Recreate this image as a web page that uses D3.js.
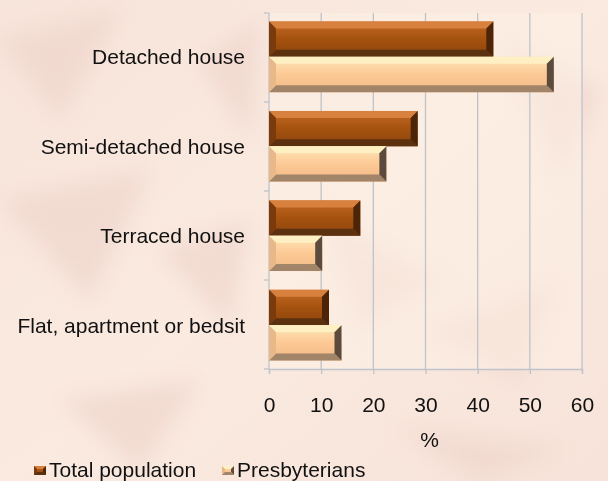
<!DOCTYPE html>
<html>
<head>
<meta charset="utf-8">
<script src="https://cdn.jsdelivr.net/npm/d3@7"></script>
<style>
  body { margin: 0; background: #f8e7dc; }
  svg { display: block; font-family: "Liberation Sans", Arial, sans-serif; }
</style>
</head>
<body>
<svg id="chart" width="608" height="481"></svg>
<script>
// chart data
const categories = ['Detached house', 'Semi-detached house', 'Terraced house', 'Flat, apartment or bedsit'];
const seriesNames = ['Total population', 'Presbyterians'];
const totalPopulation = [43, 28.5, 17.5, 11.5];
const presbyterians = [54.6, 22.5, 10.2, 13.9];
const xTicks = [0, 10, 20, 30, 40, 50, 60];

const width = 608, height = 481;
const margin = { top: 13, right: 26, bottom: 112, left: 269 };
const fontSize = 21;

const svg = d3.select('#chart');
const defs = svg.append('defs');

// crumpled paper background, roughly
const bg = defs.append('linearGradient').attr('id', 'bg')
  .attr('x1', 0).attr('y1', 0).attr('x2', 1).attr('y2', 1);
bg.append('stop').attr('offset', 0).attr('stop-color', '#f7e4da');
bg.append('stop').attr('offset', 0.5).attr('stop-color', '#faeae0');
bg.append('stop').attr('offset', 1).attr('stop-color', '#f7e3d9');
svg.append('rect').attr('width', width).attr('height', height).attr('fill', 'url(#bg)');

const blur = defs.append('filter').attr('id', 'soft').attr('x', -0.5).attr('y', -0.5).attr('width', 2).attr('height', 2);
blur.append('feGaussianBlur').attr('stdDeviation', 10);
const creases = [
  'M0,40 L120,10 L60,120 Z', 'M0,200 L150,170 L90,300 Z', 'M420,330 L560,280 L520,380 Z',
  'M320,210 L440,280 L360,330 Z', 'M60,400 L200,380 L140,470 Z', 'M500,40 L600,90 L560,180 Z',
  'M160,250 L250,220 L230,330 Z', 'M400,430 L560,450 L480,481 Z', 'M200,60 L260,20 L250,140 Z'
];
svg.append('g').attr('filter', 'url(#soft)')
  .selectAll('path').data(creases).join('path')
  .attr('d', d => d)
  .attr('fill', '#ecd0c7')
  .attr('opacity', 0.55);

const x = d3.scaleLinear().domain([0, 60]).range([margin.left, width - margin.right]);
const y = d3.scaleBand().domain(categories).range([margin.top, height - margin.bottom]).paddingInner(0.21).paddingOuter(0.095);
const ySub = d3.scaleBand().domain(seriesNames).range([0, y.bandwidth()]);

// plot area
svg.append('rect')
  .attr('x', x(0)).attr('y', margin.top)
  .attr('width', x(60) - x(0)).attr('height', height - margin.bottom - margin.top)
  .attr('fill', '#fdf1e6').attr('opacity', 0.5);

// gridlines
svg.append('g')
  .selectAll('line').data(xTicks.slice(1)).join('line')
  .attr('x1', d => x(d)).attr('x2', d => x(d))
  .attr('y1', margin.top).attr('y2', height - margin.bottom)
  .attr('stroke', '#bfc3cc').attr('stroke-width', 1.3);

// x axis
const xAxis = svg.append('g')
  .attr('transform', `translate(0,${height - margin.bottom})`)
  .call(d3.axisBottom(x).tickValues(xTicks).tickSize(5).tickPadding(23));
xAxis.select('.domain').attr('stroke', '#bfc3cc').attr('stroke-width', 1.3);
xAxis.selectAll('.tick line').attr('stroke', '#bfc3cc').attr('stroke-width', 1.3);
xAxis.selectAll('.tick text').attr('font-size', fontSize).attr('fill', '#111')
  .style('font-family', '"Liberation Sans", Arial, sans-serif');

// y axis, ticks at band boundaries
const bounds = d3.range(categories.length + 1).map(i => margin.top + i * (height - margin.bottom - margin.top) / categories.length);
svg.append('line')
  .attr('x1', x(0)).attr('x2', x(0))
  .attr('y1', margin.top).attr('y2', height - margin.bottom)
  .attr('stroke', '#bfc3cc').attr('stroke-width', 1.3);
svg.append('g').selectAll('line').data(bounds).join('line')
  .attr('x1', x(0) - 5).attr('x2', x(0))
  .attr('y1', d => d).attr('y2', d => d)
  .attr('stroke', '#bfc3cc').attr('stroke-width', 1.3);

svg.append('g').selectAll('text').data(categories).join('text')
  .attr('x', 245)
  .attr('y', d => y(d) + y.bandwidth() / 2)
  .attr('dy', '0.35em')
  .attr('text-anchor', 'end')
  .attr('font-size', fontSize)
  .attr('fill', '#111')
  .text(d => d);

// axis title
svg.append('text')
  .attr('x', (x(0) + x(60)) / 2 + 4).attr('y', 447)
  .attr('text-anchor', 'middle').attr('font-size', fontSize).attr('fill', '#111')
  .text('%');

// bevelled bar styles
const styles = {
  'Total population': { top: '#d8803e', mid: ['#c46a26', '#a5520f', '#8c440c'], bottom: '#5c3110', left: '#7a3a0c', right: '#4c2508' },
  'Presbyterians': { top: '#fff0c4', mid: ['#fee6b8', '#fcc995', '#f2b987'], bottom: '#a28468', left: '#e8b888', right: '#5c4a3c' }
};
Object.entries(styles).forEach(([name, s], i) => {
  const g = defs.append('linearGradient').attr('id', 'mid' + i).attr('x1', 0).attr('y1', 0).attr('x2', 0).attr('y2', 1);
  s.mid.forEach((c, j) => g.append('stop').attr('offset', j / (s.mid.length - 1)).attr('stop-color', c));
  s.grad = 'url(#mid' + i + ')';
});

const bars = [];
categories.forEach((c, i) => {
  bars.push({ cat: c, series: seriesNames[0], value: totalPopulation[i] });
  bars.push({ cat: c, series: seriesNames[1], value: presbyterians[i] });
});

const bev = 7;
const barG = svg.append('g').selectAll('g').data(bars).join('g');
barG.each(function (d) {
  const g = d3.select(this);
  const s = styles[d.series];
  const x0 = x(0), x1 = x(d.value);
  const y0 = y(d.cat) + ySub(d.series), y1 = y0 + ySub.bandwidth();
  const b = Math.min(bev, (x1 - x0) / 2);
  g.append('rect').attr('x', x0).attr('y', y0).attr('width', x1 - x0).attr('height', y1 - y0).attr('fill', s.grad);
  const poly = (pts, fill) => g.append('polygon').attr('points', pts.map(p => p.join(',')).join(' ')).attr('fill', fill);
  poly([[x0, y0], [x1, y0], [x1 - b, y0 + b], [x0 + b, y0 + b]], s.top);
  poly([[x0, y1], [x1, y1], [x1 - b, y1 - b], [x0 + b, y1 - b]], s.bottom);
  poly([[x0, y0], [x0 + b, y0 + b], [x0 + b, y1 - b], [x0, y1]], s.left);
  poly([[x1, y0], [x1 - b, y0 + b], [x1 - b, y1 - b], [x1, y1]], s.right);
});

// legend
const legendItems = [
  { name: seriesNames[0], x: 34 },
  { name: seriesNames[1], x: 222 }
];
const lg = svg.append('g').selectAll('g').data(legendItems).join('g')
  .attr('transform', d => `translate(${d.x},466)`);
lg.each(function (d) {
  const g = d3.select(this);
  const s = styles[d.name];
  g.append('rect').attr('width', 12).attr('height', 9).attr('fill', s.grad);
  g.append('polygon').attr('points', '0,0 12,0 9,3 3,3').attr('fill', s.top);
  g.append('polygon').attr('points', '0,0 3,3 3,6 0,9').attr('fill', s.left);
  g.append('polygon').attr('points', '12,0 9,3 9,6 12,9').attr('fill', s.right);
  g.append('polygon').attr('points', '0,9 12,9 9,6 3,6').attr('fill', s.bottom);
  g.append('text').attr('x', 15).attr('y', 11).attr('font-size', fontSize).attr('fill', '#111').text(d.name);
});
</script>
</body>
</html>
